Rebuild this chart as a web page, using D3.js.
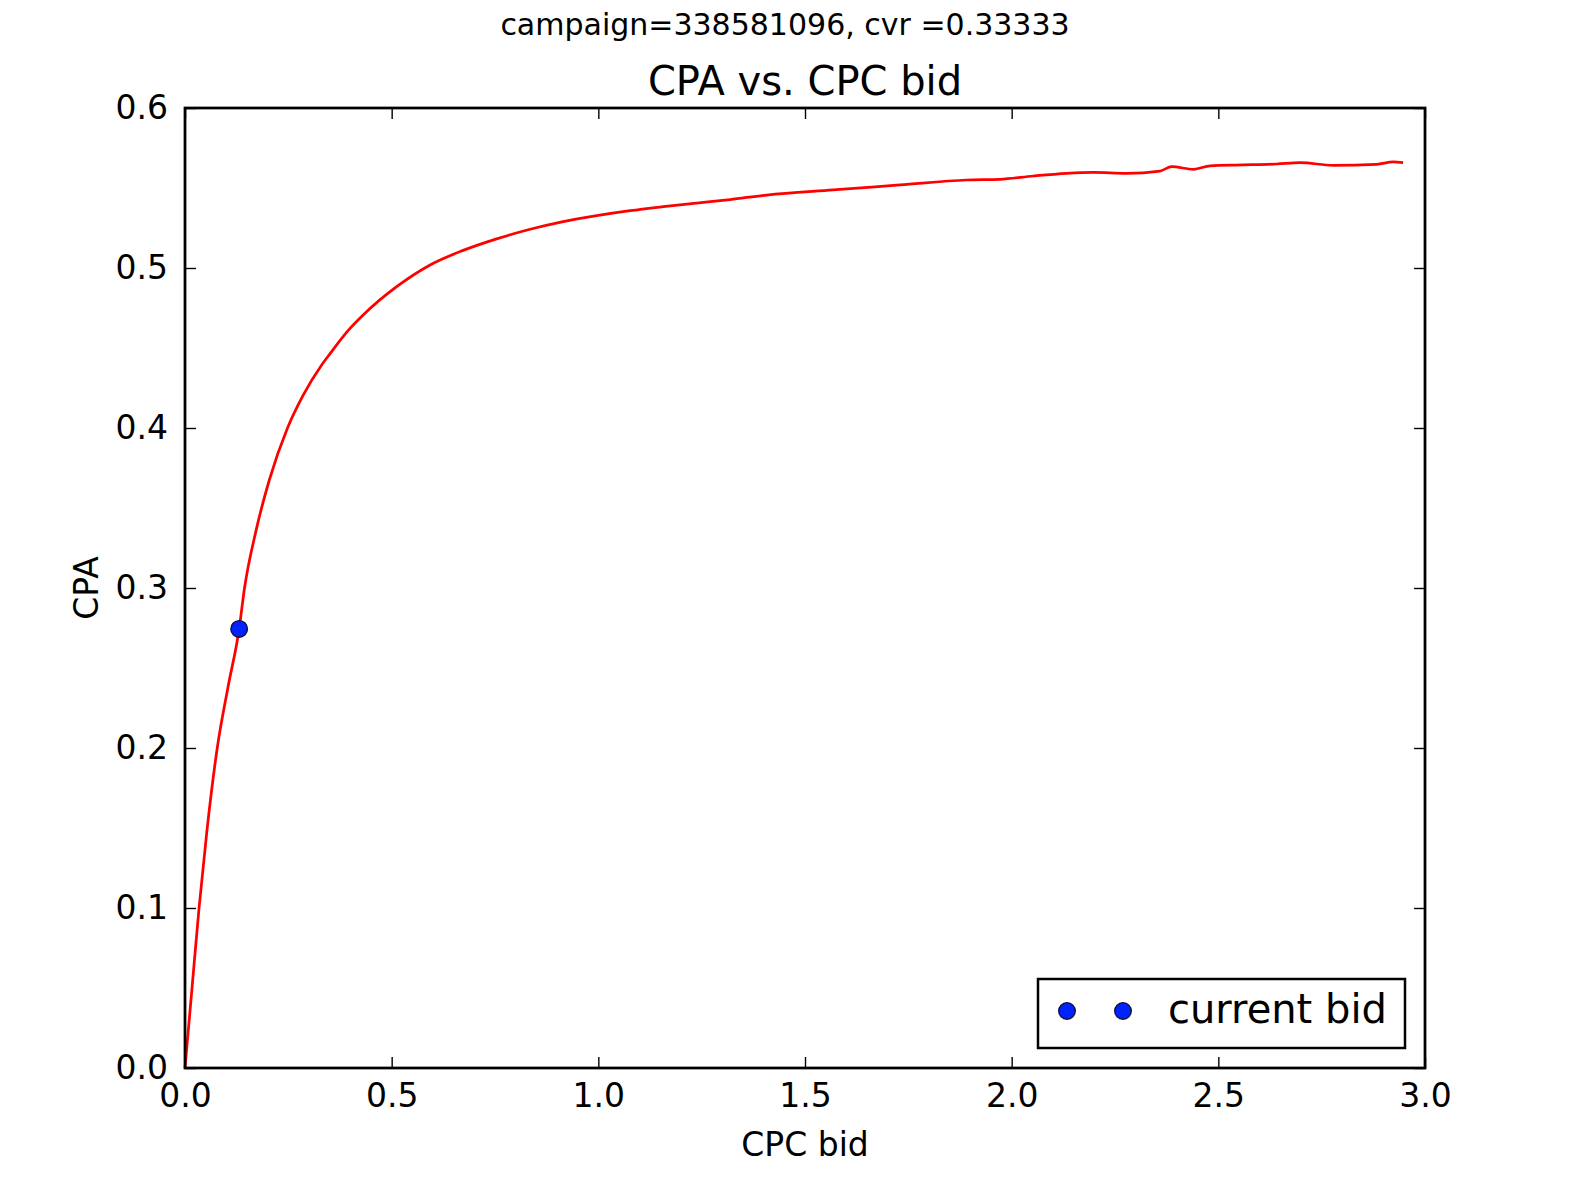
<!DOCTYPE html>
<html>
<head>
<meta charset="utf-8">
<script src="https://cdn.jsdelivr.net/npm/d3@7"></script>
<style>
  body { margin: 0; background: #fff; }
  svg text { font-family: "DejaVu Sans", sans-serif; fill: #000; }
</style>
</head>
<body>
<svg id="chart"></svg>
<script>
// values
var cpcBid = [0, 0.017, 0.034, 0.0525, 0.078, 0.104, 0.131, 0.144, 0.172, 0.204, 0.248, 0.286, 0.331, 0.351, 0.395, 0.431,
              0.512, 0.593, 0.673, 0.754, 0.835, 0.915, 0.996, 1.077, 1.157, 1.238, 1.319, 1.407, 1.568, 1.730, 1.891,
              1.972, 2.052, 2.133, 2.198, 2.278, 2.359, 2.387, 2.440, 2.480, 2.561, 2.641, 2.698, 2.778, 2.883, 2.923, 2.947];
var cpa = [0, 0.05, 0.1, 0.147, 0.2, 0.238, 0.2744, 0.3, 0.336, 0.3675, 0.4, 0.4205, 0.4395, 0.4465, 0.461, 0.4706,
           0.4883, 0.5019, 0.511, 0.5182, 0.5242, 0.529, 0.5327, 0.5358, 0.5383, 0.5406, 0.5428, 0.5456, 0.5488, 0.5519, 0.555,
           0.5554, 0.5575, 0.5592, 0.5598, 0.5592, 0.5606, 0.5633, 0.5617, 0.5639, 0.5644, 0.565, 0.5658, 0.5642, 0.5648, 0.5663, 0.5658];
var currentBid = [0.131];
var currentCpa = [0.2744];
var xTicks = [0, 0.5, 1.0, 1.5, 2.0, 2.5, 3.0];
var yTicks = [0, 0.1, 0.2, 0.3, 0.4, 0.5, 0.6];
var legendLabels = ['current bid'];

var W = 1582, H = 1188;
var pLeft = 185, pRight = 1425, pTop = 108, pBottom = 1068;

var svg = d3.select('#chart')
            .attr('width', W)
            .attr('height', H);

var xScale = d3.scaleLinear().domain([0, 3]).range([pLeft, pRight]);
var yScale = d3.scaleLinear().domain([0, 0.6]).range([pBottom, pTop]);
var fmt = d3.format('.1f');

// ticks point inwards on all four sides
var xAxis = d3.axisBottom(xScale).tickValues(xTicks).tickFormat(fmt).tickSize(-11).tickPadding(16);
var yAxis = d3.axisLeft(yScale).tickValues(yTicks).tickFormat(fmt).tickSize(-11).tickPadding(17);
var xTop = d3.axisTop(xScale).tickValues(xTicks).tickFormat('').tickSize(-11);
var yRight = d3.axisRight(yScale).tickValues(yTicks).tickFormat('').tickSize(-11);

function styleAxis(g) {
  g.select('.domain').remove();
  g.selectAll('line').attr('stroke', '#000').attr('stroke-width', 1.4);
  g.selectAll('text').style('font-size', '33px').style('font-family', '"DejaVu Sans", sans-serif').attr('fill', '#000');
}

svg.append('g').attr('transform', 'translate(0,' + pBottom + ')').call(xAxis).call(styleAxis);
svg.append('g').attr('transform', 'translate(' + pLeft + ',0)').call(yAxis).call(styleAxis);
svg.append('g').attr('transform', 'translate(0,' + pTop + ')').call(xTop).call(styleAxis);
svg.append('g').attr('transform', 'translate(' + pRight + ',0)').call(yRight).call(styleAxis);

// curve
var line = d3.line()
             .x(function(d, i) { return xScale(cpcBid[i]); })
             .y(function(d) { return yScale(d); })
             .curve(d3.curveMonotoneX);

svg.append('path')
   .datum(cpa)
   .attr('d', line)
   .attr('fill', 'none')
   .attr('stroke', '#ff0000')
   .attr('stroke-width', 2.75)
   .attr('stroke-linejoin', 'round');

svg.selectAll('circle.bid').data(currentCpa)
   .enter()
   .append('circle')
   .attr('class', 'bid')
   .attr('cx', function(d, i) { return xScale(currentBid[i]); })
   .attr('cy', function(d) { return yScale(d); })
   .attr('r', 8.3)
   .attr('fill', '#0022ff')
   .attr('stroke', '#101040')
   .attr('stroke-width', 1.4);

// axes frame
svg.append('rect')
   .attr('x', pLeft).attr('y', pTop)
   .attr('width', pRight - pLeft).attr('height', pBottom - pTop)
   .attr('fill', 'none')
   .attr('stroke', '#000')
   .attr('stroke-width', 2.75);

// titles
svg.append('text')
   .attr('x', 785).attr('y', 35)
   .attr('text-anchor', 'middle')
   .style('font-size', '30px')
   .text('campaign=338581096, cvr =0.33333');

svg.append('text')
   .attr('x', (pLeft + pRight) / 2).attr('y', 95)
   .attr('text-anchor', 'middle')
   .style('font-size', '40px')
   .text('CPA vs. CPC bid');

svg.append('text')
   .attr('x', (pLeft + pRight) / 2).attr('y', 1156)
   .attr('text-anchor', 'middle')
   .style('font-size', '33px')
   .text('CPC bid');

svg.append('text')
   .attr('transform', 'translate(98,' + (pTop + pBottom) / 2 + ') rotate(-90)')
   .attr('text-anchor', 'middle')
   .style('font-size', '33px')
   .text('CPA');

// legend (two marker points, matplotlib style)
var legend = svg.append('g').attr('transform', 'translate(1038,979)');
legend.append('rect')
      .attr('width', 367).attr('height', 69)
      .attr('fill', '#fff')
      .attr('stroke', '#000')
      .attr('stroke-width', 2.5);
legend.selectAll('circle').data([29, 85])
      .enter()
      .append('circle')
      .attr('cx', function(d) { return d; })
      .attr('cy', 32)
      .attr('r', 8.3)
      .attr('fill', '#0022ff')
      .attr('stroke', '#101040')
      .attr('stroke-width', 1.4);
legend.append('text')
      .attr('x', 130).attr('y', 44)
      .style('font-size', '40px')
      .text(legendLabels[0]);
</script>
</body>
</html>
